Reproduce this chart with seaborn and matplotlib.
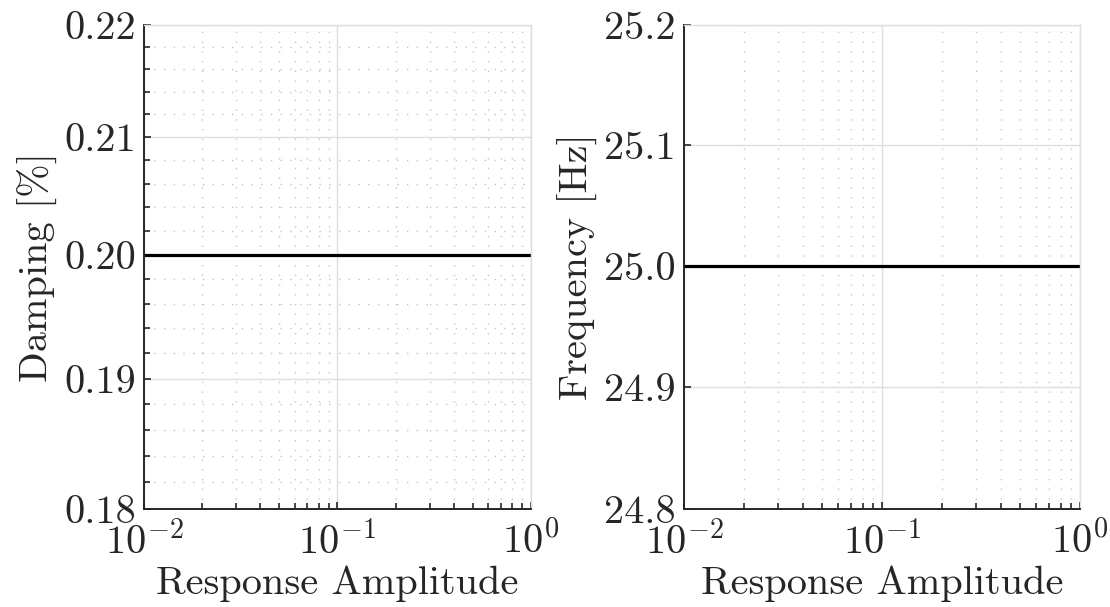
import numpy as np
import pandas as pd
import matplotlib
matplotlib.use("Agg")
import matplotlib.pyplot as plt
import matplotlib.ticker as mticker
import seaborn as sns

# data
amplitude = [0.01, 1.0]
damping = [0.20, 0.20]
frequency = [25.0, 25.0]

damp_ticks = [0.18, 0.19, 0.20, 0.21, 0.22]
freq_ticks = [24.8, 24.9, 25.0, 25.1, 25.2]
x_ticks = [0.01, 0.1, 1.0]

sns.set_theme(style="white")
plt.rcParams["font.family"] = ["cmr10", "DejaVu Serif"]
plt.rcParams["mathtext.fontset"] = "cm"
plt.rcParams["axes.formatter.use_mathtext"] = True
plt.rcParams["axes.unicode_minus"] = False

df = pd.DataFrame({"amp": amplitude, "damp": damping, "freq": frequency})

fig = plt.figure(figsize=(11.1, 6.07), dpi=100)
ax1 = fig.add_axes([0.1297, 0.1614, 0.3486, 0.7974])
ax2 = fig.add_axes([0.6162, 0.1614, 0.3568, 0.7974])

sns.lineplot(data=df, x="amp", y="damp", ax=ax1, color="black", linewidth=2.3)
sns.lineplot(data=df, x="amp", y="freq", ax=ax2, color="black", linewidth=2.3)

fs = 29
for ax, yt, ylab, ymin in [(ax1, damp_ticks, "Damping [%]", True),
                           (ax2, freq_ticks, "Frequency [Hz]", False)]:
    ax.set_xscale("log")
    ax.set_yscale("log")
    ax.set_xlim(x_ticks[0], x_ticks[-1])
    ax.set_ylim(yt[0], yt[-1])
    ax.xaxis.set_major_locator(mticker.FixedLocator(x_ticks))
    ax.xaxis.set_major_formatter(mticker.LogFormatterSciNotation())
    ax.xaxis.set_minor_locator(mticker.LogLocator(base=10, subs=np.arange(2, 10)))
    ax.xaxis.set_minor_formatter(mticker.NullFormatter())
    ax.yaxis.set_major_locator(mticker.FixedLocator(yt))
    ax.yaxis.set_major_formatter(mticker.FixedFormatter(
        ["%.2f" % v if ymin else "%.1f" % v for v in yt]))
    if ymin:
        minors = [round(v, 3) for v in np.arange(0.182, 0.2200, 0.002)]
        minors = [v for v in minors if round(v * 100, 6) % 1 != 0]
        ax.yaxis.set_minor_locator(mticker.FixedLocator(minors))
    else:
        ax.yaxis.set_minor_locator(mticker.NullLocator())
    ax.yaxis.set_minor_formatter(mticker.NullFormatter())

    ax.grid(True, which="major", color="#dedede", linewidth=1.0)
    ax.grid(True, which="minor", color="#c4c4c4", linewidth=1.0,
            linestyle=(0, (1, 6)))
    ax.set_axisbelow(True)

    for s in ["left", "bottom"]:
        ax.spines[s].set_color("#262626")
        ax.spines[s].set_linewidth(1.4)
    for s in ["top", "right"]:
        ax.spines[s].set_color("#dedede")
        ax.spines[s].set_linewidth(1.0)

    ax.tick_params(axis="both", which="both", direction="in", top=False,
                   right=False, left=True, bottom=True, color="#262626",
                   labelsize=fs, width=1.2)
    ax.tick_params(which="major", length=5)
    ax.tick_params(which="minor", length=4)
    ax.tick_params(axis="x", which="major", pad=9)
    ax.tick_params(axis="y", which="major", pad=6)

    ax.set_xlabel("Response Amplitude", fontsize=fs, labelpad=2)
    ax.set_ylabel(ylab, fontsize=fs, labelpad=4)

fig.savefig("out.png", dpi=100)
